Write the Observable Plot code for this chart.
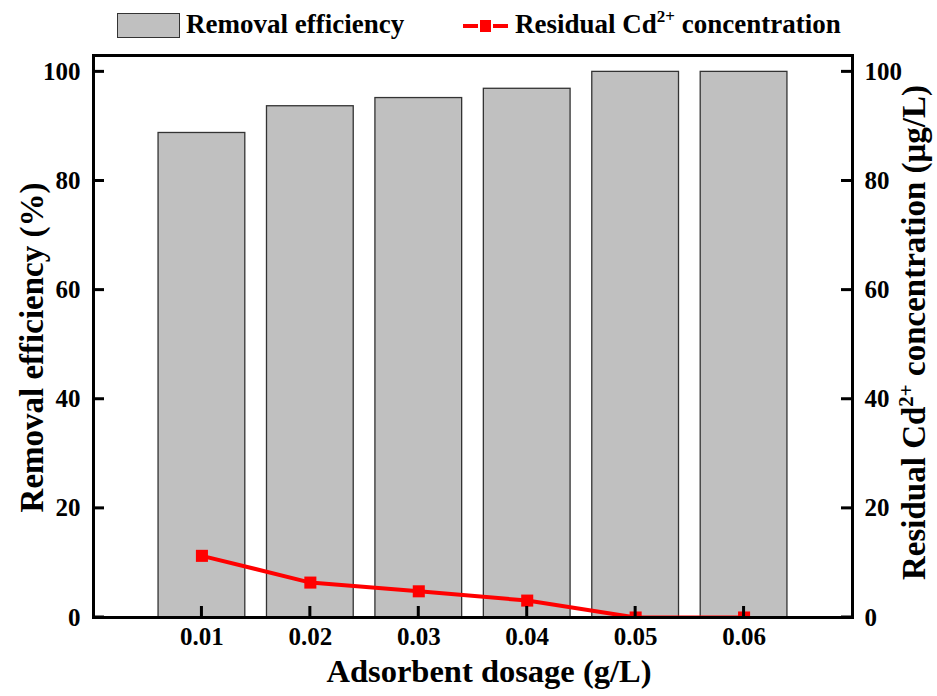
<!DOCTYPE html>
<html><head><meta charset="utf-8">
<script src="https://cdn.jsdelivr.net/npm/d3@7"></script>
<script src="https://cdn.jsdelivr.net/npm/@observablehq/plot@0.6"></script>
<style>
body{margin:0;background:#fff;}
#wrap{position:relative;width:937px;height:696px;font-family:"Liberation Serif","Times New Roman",serif;font-weight:bold;color:#000;}
#legend{position:relative;width:937px;height:52px;}
#legend .t{position:absolute;top:9px;font-size:27px;line-height:30px;white-space:nowrap;}
#legend sup{font-size:17px;line-height:0;vertical-align:11px;}
svg{overflow:visible;display:block;}
</style></head><body>
<div id="wrap">
<div id="legend">
  <div style="position:absolute;left:117px;top:13px;width:61px;height:23px;background:#c0c0c0;border:1.5px solid #333;"></div>
  <div class="t" style="left:186px;">Removal efficiency</div>
  <div style="position:absolute;left:463px;top:24px;width:15px;height:4px;background:#f00;"></div>
  <div style="position:absolute;left:480px;top:20px;width:11px;height:12px;background:#f00;"></div>
  <div style="position:absolute;left:493px;top:24px;width:15px;height:4px;background:#f00;"></div>
  <div class="t" style="left:515px;">Residual Cd<sup>2+</sup> concentration</div>
</div>
<div id="chart"></div>
</div>
<script>
const dosage = [0.01, 0.02, 0.03, 0.04, 0.05, 0.06];
const removal = [88.8, 93.7, 95.2, 96.9, 100, 100];
const residual = [11.3, 6.4, 4.8, 3.1, 0, 0];
const yTicks = [0, 20, 40, 60, 80, 100];
const xTicks = [0.01, 0.02, 0.03, 0.04, 0.05, 0.06];
const xTitle = "Adsorbent dosage (g/L)";
const yTitle = "Removal efficiency (%)";
const y2Title = "Residual Cd2+ concentration (μg/L)";

const data = dosage.map((d, i) => ({dosage: d, removal: removal[i], residual: residual[i]}));
const half = 0.004;
const FONT = "'Liberation Serif','Times New Roman',serif";
const W = 937, H = 644, MT = 3, MB = 79, ML = 93, MR = 85;
const XD = [0, 0.07], YD = [0, 103];
const frameW = W - ML - MR, frameH = H - MT - MB, TICK = 11, TW = 3;
// tick length / width converted to data units
const kx = (XD[1] - XD[0]) / frameW, ky = (YD[1] - YD[0]) / frameH;

const plot = Plot.plot({
  width: W, height: H,
  marginTop: MT, marginBottom: MB, marginLeft: ML, marginRight: MR,
  x: {domain: XD},
  y: {domain: YD},
  style: {fontFamily: FONT, fontWeight: "bold", fontSize: "25px", color: "#000", background: "#fff", overflow: "visible"},
  marks: [
    Plot.rect(data, {x1: d => d.dosage - half, x2: d => d.dosage + half, y1: () => 0, y2: "removal", fill: "#c0c0c0", stroke: "#333", strokeWidth: 1.3}),
    Plot.line(data, {x: "dosage", y: "residual", stroke: "#ff0000", strokeWidth: 4, clip: true}),
    Plot.dot(data, {x: "dosage", y: "residual", symbol: "square", r: 6.8, fill: "#ff0000", stroke: "none", clip: true}),
    // tick labels
    Plot.axisX({ticks: xTicks, tickFormat: d3.format(".2f"), tickSize: 0, tickPadding: 10, fontSize: 25, label: null}),
    Plot.axisY({anchor: "left", ticks: yTicks, tickSize: 0, tickPadding: 13, fontSize: 25, label: null}),
    Plot.axisY({anchor: "right", ticks: yTicks, tickSize: 0, tickPadding: 12, fontSize: 25, label: null}),
    // axis titles
    Plot.text([xTitle], {frameAnchor: "bottom", dx: 16, dy: 54, fontSize: 32.5, textAnchor: "middle", lineAnchor: "middle", text: d => d}),
    Plot.text([yTitle], {frameAnchor: "left", dx: -61, dy: 11, rotate: -90, fontSize: 33, textAnchor: "middle", lineAnchor: "middle", text: d => d}),
    Plot.text([y2Title], {frameAnchor: "right", dx: 62, dy: -4, rotate: -90, fontSize: 33, textAnchor: "middle", lineAnchor: "middle", text: d => d}),
    Plot.frame({stroke: "#000", strokeWidth: 3}),
    // inward tick marks (thin filled rects), on top of everything
    Plot.rect(xTicks, {x1: d => d - kx * TW / 2, x2: d => d + kx * TW / 2, y1: () => YD[0], y2: () => YD[0] + ky * TICK, fill: "#000"}),
    Plot.rect(yTicks, {y1: d => d - ky * TW / 2, y2: d => d + ky * TW / 2, x1: () => XD[0], x2: () => XD[0] + kx * TICK, fill: "#000"}),
    Plot.rect(yTicks, {y1: d => d - ky * TW / 2, y2: d => d + ky * TW / 2, x1: () => XD[1] - kx * TICK, x2: () => XD[1], fill: "#000"})
  ]
});
document.getElementById("chart").appendChild(plot);

// superscript for Cd2+
plot.querySelectorAll("text").forEach(t => {
  if (t.textContent === y2Title) {
    t.textContent = "";
    const ns = "http://www.w3.org/2000/svg";
    const a = document.createElementNS(ns, "tspan"); a.textContent = "Residual Cd";
    const b = document.createElementNS(ns, "tspan"); b.textContent = "2+"; b.setAttribute("baseline-shift", "super"); b.setAttribute("font-size", "21");
    const c = document.createElementNS(ns, "tspan"); c.textContent = " concentration (μg/L)";
    t.append(a, b, c);
  }
});
</script>
</body></html>
